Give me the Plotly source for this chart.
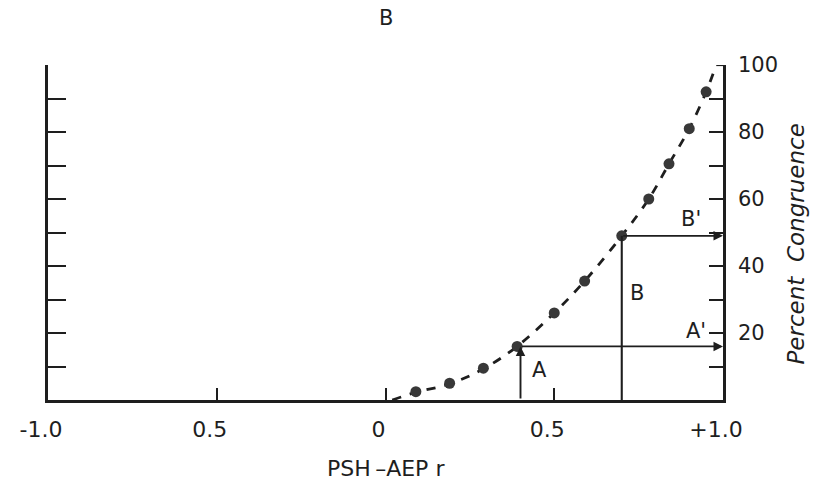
import plotly.graph_objects as go

# Data
dot_r = [0.09, 0.19, 0.29, 0.39, 0.50, 0.59, 0.70, 0.78, 0.84, 0.90, 0.95]
dot_pct = [2.5, 5, 9.5, 16, 26, 35.5, 49, 60, 70.5, 81, 92]

curve_r = [0.02, 0.09, 0.19, 0.29, 0.39, 0.50, 0.59, 0.70, 0.78, 0.84, 0.90, 0.95, 0.98]
curve_pct = [0, 2.3, 4.8, 9.3, 16, 26, 35.5, 49, 60, 70.5, 81, 92, 100]

x_tickvals = [-1.0, -0.5, 0.0, 0.5, 1.0]
x_ticktext = ["-1.0", "0.5", "0", "0.5", "+1.0"]
left_tickvals = [10, 20, 30, 40, 50, 60, 70, 80, 90, 100]
right_tickvals = [10, 20, 30, 40, 50, 60, 70, 80, 90]
right_ticktext = ["", "20", "", "40", "", "60", "", "80", ""]

point_A = (0.4, 16)
point_B = (0.7, 49)

INK = "#1e1e1e"
FONT = "DejaVu Sans"

fig = go.Figure()
fig.add_trace(go.Scatter(x=curve_r, y=curve_pct, mode="lines",
                         line=dict(color=INK, width=2.8, dash="dash", shape="spline"),
                         hoverinfo="skip", showlegend=False))
fig.add_trace(go.Scatter(x=dot_r, y=dot_pct, mode="markers",
                         marker=dict(color="#383838", size=11),
                         showlegend=False))
fig.add_trace(go.Scatter(x=[None], y=[None], yaxis="y2", showlegend=False))

# final little hook at the top of the curve
fig.add_shape(type="line", x0=0.98, y0=100, x1=1.0, y1=100,
              line=dict(color=INK, width=2.2))

# A and B construction lines
fig.add_annotation(x=point_A[0], y=point_A[1], ax=point_A[0], ay=0,
                   xref="x", yref="y", axref="x", ayref="y", text="",
                   showarrow=True, arrowhead=2, arrowsize=1, arrowwidth=1.9, arrowcolor=INK)
fig.add_annotation(x=1.0, y=point_A[1], ax=point_A[0], ay=point_A[1],
                   xref="x", yref="y", axref="x", ayref="y", text="",
                   showarrow=True, arrowhead=2, arrowsize=1, arrowwidth=1.9, arrowcolor=INK)
fig.add_shape(type="line", x0=point_B[0], y0=0, x1=point_B[0], y1=point_B[1],
              line=dict(color=INK, width=2.1))
fig.add_annotation(x=1.0, y=point_B[1], ax=point_B[0], ay=point_B[1],
                   xref="x", yref="y", axref="x", ayref="y", text="",
                   showarrow=True, arrowhead=2, arrowsize=1, arrowwidth=1.9, arrowcolor=INK)

labels = [("A", 0.455, 9), ("A'", 0.92, 20.5), ("B", 0.745, 32), ("B'", 0.905, 54)]
for t, x, y in labels:
    fig.add_annotation(x=x, y=y, xref="x", yref="y", text=t, showarrow=False,
                       font=dict(family=FONT, size=21, color=INK))

fig.add_annotation(x=1.0, y=0.5, xref="paper", yref="paper", xshift=87, yshift=-12,
                   text="<i>Percent  Congruence</i>", textangle=-90, showarrow=False,
                   font=dict(family=FONT, size=23, color=INK))
fig.add_annotation(x=0.0, y=1.0, xref="x", yref="paper", yshift=47, yanchor="middle",
                   text="B", showarrow=False, font=dict(family=FONT, size=21, color=INK))
fig.add_annotation(x=0.0, y=0.0, xref="x", yref="paper", yshift=-68, yanchor="middle",
                   text="PSH\u2009\u2013AEP r", showarrow=False,
                   font=dict(family=FONT, size=22, color=INK))

fig.update_layout(
    width=815, height=481,
    margin=dict(l=48, r=92, t=65, b=81),
    paper_bgcolor="white", plot_bgcolor="white",
    xaxis=dict(range=[-1.0, 1.0], showgrid=False, zeroline=False,
               showline=True, linecolor=INK, linewidth=2.6,
               ticks="inside", ticklen=12, tickwidth=2, tickcolor=INK,
               tickvals=x_tickvals, ticktext=x_ticktext, ticklabelstandoff=8,
               ticklabelshift=-7,
               tickfont=dict(family=FONT, size=22, color=INK)),
    yaxis=dict(range=[0, 100], showgrid=False, zeroline=False,
               showline=True, linecolor=INK, linewidth=2.6,
               ticks="inside", ticklen=18, tickwidth=2.2, tickcolor=INK,
               tickvals=left_tickvals, showticklabels=False),
    yaxis2=dict(range=[0, 100], overlaying="y", side="right", showgrid=False,
                zeroline=False, showline=True, linecolor=INK, linewidth=2.6,
                ticks="inside", ticklen=14, tickwidth=2.2, tickcolor=INK,
                tickvals=right_tickvals + [100], ticktext=right_ticktext + ["100"],
                ticklabelstandoff=8,
                tickfont=dict(family=FONT, size=21, color=INK)),
)

fig.write_html("out.html")
